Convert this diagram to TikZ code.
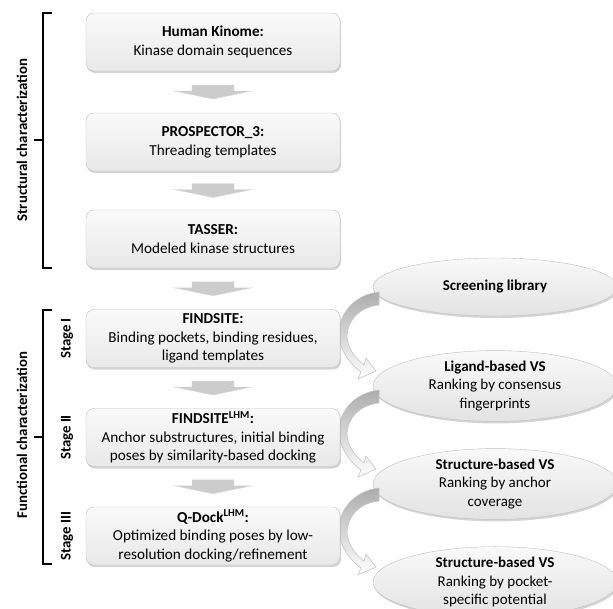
\documentclass[tikz,border=0pt]{standalone}
\usepackage{fontspec}
\setmainfont{Carlito}
\usetikzlibrary{shadows,shapes.geometric,calc}
\begin{document}
\begin{tikzpicture}[x=1pt,y=-1pt,
  box/.style={draw=gray!50, rounded corners=8pt, top color=gray!4, bottom color=gray!18,
    minimum width=254pt, minimum height=58pt, align=center, inner sep=0pt,
    font=\fontsize{15.2}{18.7}\selectfont,
    drop shadow={shadow xshift=1pt, shadow yshift=-2pt, opacity=0.45, fill=gray!75}},
  oval/.style={ellipse, draw=gray!50, top color=gray!5, bottom color=gray!22,
    minimum width=244pt, minimum height=58pt, align=center, inner sep=0pt,
    font=\fontsize{15}{18.5}\selectfont,
    drop shadow={shadow xshift=1pt, shadow yshift=-2pt, opacity=0.45, fill=gray!75}},
  blockarrow/.style={fill=gray!40, draw=gray!30},
  curvearrow/.style={top color=gray!65, bottom color=white, draw=gray!45, line width=0.6pt},
  bracket/.style={line width=1.5pt, black},
  sidelabel/.style={rotate=90, font=\fontsize{14.8}{17}\selectfont\bfseries}
]
\clip (0,0) rectangle (613,608);
\useasboundingbox (0,0) rectangle (613,608);

% ellipses (drawn first so curved arrows overlap their edges)
\node[oval] (lib) at (495,287) {\textbf{Screening library}};
\node[oval] (lvs) at (495,386) {\textbf{Ligand-based VS}\\Ranking by consensus\\fingerprints};
\node[oval] (svs1) at (495,484) {\textbf{Structure-based VS}\\Ranking by anchor\\coverage};
\node[oval] (svs2) at (495,582) {\textbf{Structure-based VS}\\Ranking by pocket-\\specific potential};

% curved arrows
\foreach \k in {0,1,2}{
  \begin{scope}[shift={(0,98*\k)}]
    \path[curvearrow] (379,292) .. controls (352,295) and (337,317) .. (339,337)
      .. controls (341,352) and (350,364) .. (361,372)
      -- (358,379) -- (376,371) -- (366,358) -- (364,365)
      .. controls (354,357) and (348,348) .. (347,337)
      .. controls (347,321) and (359,307) .. (379,305) -- cycle;
  \end{scope}
}

% main boxes
\node[box] (hk) at (213,42) {\textbf{Human Kinome:}\\Kinase domain sequences};
\node[box] (pr) at (213,142) {\textbf{PROSPECTOR\_3:}\\Threading templates};
\node[box] (ts) at (213,239) {\textbf{TASSER:}\\Modeled kinase structures};
\node[box] (fs) at (213,338.5) {\textbf{FINDSITE:}\\Binding pockets, binding residues,\\ligand templates};
\node[box] (fl) at (213,437.5) {\textbf{FINDSITE\textsuperscript{LHM}:}\\Anchor substructures, initial binding\\poses by similarity-based docking};
\node[box] (qd) at (213,536) {\textbf{Q-Dock\textsuperscript{LHM}:}\\Optimized binding poses by low-\\resolution docking/refinement};

% gray block arrows between boxes
\path ($(hk.south)!0.5!(pr.north)$) coordinate (m1);
\path ($(pr.south)!0.5!(ts.north)$) coordinate (m2);
\path ($(ts.south)!0.5!(fs.north)$) coordinate (m3);
\path ($(fs.south)!0.5!(fl.north)$) coordinate (m4);
\path ($(fl.south)!0.5!(qd.north)$) coordinate (m5);
\foreach \m in {m1,m2,m3,m4,m5}{
  \path[blockarrow] ([shift={(-21pt,7pt)}]\m) -- ([shift={(21pt,7pt)}]\m)
    -- ([shift={(21pt,1pt)}]\m) -- ([shift={(39pt,1pt)}]\m)
    -- ([shift={(0pt,-7pt)}]\m) -- ([shift={(-39pt,1pt)}]\m)
    -- ([shift={(-21pt,1pt)}]\m) -- cycle;
}

% brackets
\draw[bracket] (52,13) -- (43,13) -- (43,268) -- (52,268);
\draw[bracket] (43,140) -- (34,140);
\draw[bracket] (52,310) -- (43,310) -- (43,564) -- (52,564);
\draw[bracket] (43,437) -- (34,437);

\node[sidelabel] (sc) at (22,140) {Structural characterization};
\node[sidelabel] (fc) at (22,435) {Functional characterization};
\node[sidelabel] (s1) at (67,338.5) {Stage I};
\node[sidelabel] (s2) at (67,437.5) {Stage II};
\node[sidelabel] (s3) at (67,536) {Stage III};
\end{tikzpicture}
\end{document}
